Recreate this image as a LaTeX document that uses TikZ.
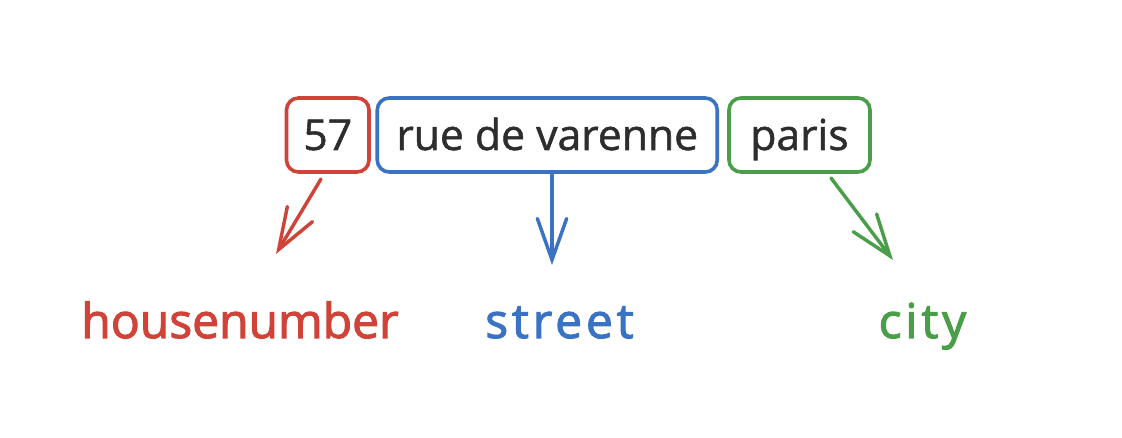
\documentclass[tikz,border=0pt]{standalone}
\usepackage{fontspec}
\setmainfont{Open Sans}
\newfontfamily\tokfont[FakeBold=1.2]{Open Sans}
\newfontfamily\labfont[FakeBold=2.2]{Open Sans}
\usetikzlibrary{arrows.meta}
\definecolor{cred}{HTML}{CF4339}
\definecolor{cblue}{HTML}{3A72C4}
\definecolor{cgreen}{HTML}{4A9E4A}
\definecolor{ink}{HTML}{2D2D2D}
\begin{document}
\begin{tikzpicture}[x=0.75pt,y=-0.75pt,
  tok/.style={draw, line width=2.7pt, rounded corners=9pt, minimum height=55.5pt,
    inner sep=0pt, text=ink, font=\tokfont\fontsize{32}{38}\selectfont,
    text height=28pt, text depth=5.5pt},
  lab/.style={font=\labfont\fontsize{36}{43}\selectfont, anchor=base, inner sep=0pt},
  arr/.style={line width=2.6pt, line cap=round, line join=round,
    -{Straight Barb[length=31pt,width=22pt,line cap=round]}}
]
\useasboundingbox (0,0) rectangle (1122,438);
% token boxes
\node[tok, draw=cred, minimum width=61.9pt] (n57) at (327.75,135) {57};
\node[tok, draw=cblue, minimum width=255pt] (nrue) at (547.25,135) {rue de varenne};
\node[tok, draw=cgreen, minimum width=105.75pt] (nparis) at (799.5,135) {paris\hspace{10pt}};
% labels
\node[lab, text=cred] (hn) at (240,338) {housenumber};
\node[lab, text=cblue] (st) at (559.5,338) {\addfontfeature{LetterSpace=8}street};
\node[lab, text=cgreen] (ci) at (922.5,338) {\addfontfeature{LetterSpace=8}city};
% arrow end points
\coordinate (r0) at (321,179);
\coordinate (r1) at (276,254);
\coordinate (b0) at (552,175);
\coordinate (b1) at (552,265);
\coordinate (g0) at (831,178);
\coordinate (g1) at (893,260);
\draw[arr, cred] (r0) -- (r1);
\draw[arr, cblue] (b0) -- (b1);
\draw[arr, cgreen] (g0) -- (g1);
\end{tikzpicture}
\end{document}
